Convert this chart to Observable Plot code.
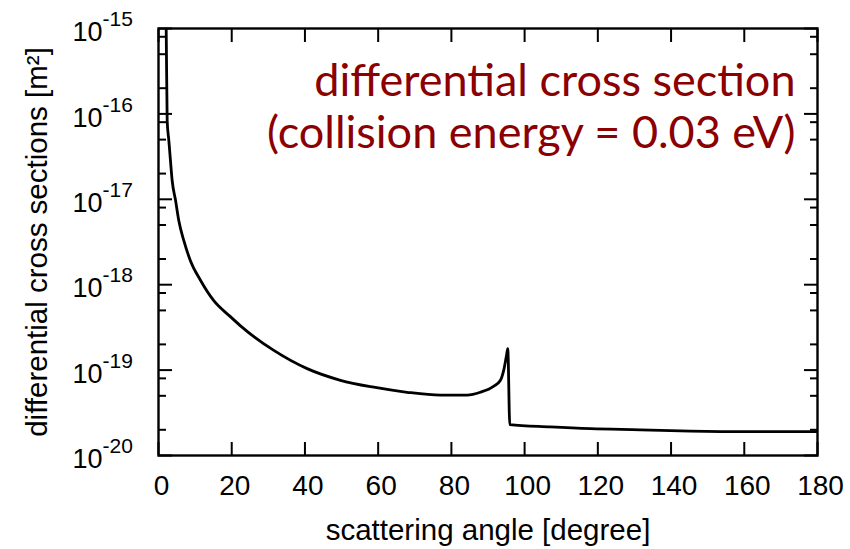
<!DOCTYPE html>
<html><head><meta charset="utf-8">
<script src="https://cdn.jsdelivr.net/npm/d3@7"></script>
<script src="https://cdn.jsdelivr.net/npm/@observablehq/plot@0.6"></script>
<style>body{margin:0;background:#fff} #chart svg{display:block}</style>
</head><body><div id="chart"></div>
<script>
const angles = [1.9, 2.1, 2.37, 2.82, 3.28, 3.73, 4.64, 5.55, 6.9, 8.74, 11.5, 15.1, 19.7, 22.4, 31.5, 40.6, 49.7, 58.8, 67.9, 77.0, 84.3, 87.9, 91.6, 93.4, 94.3, 95.05, 95.4, 95.95, 107, 118, 131.6, 145.3, 161.7, 180];
const crossSections = [2.5e-15, 1.0e-15, 8.3e-17, 4.9e-17, 2.8e-17, 1.66e-17, 9.8e-18, 5.6e-18, 3.3e-18, 1.9e-18, 1.12e-18, 6.5e-19, 4.2e-19, 3.3e-19, 1.7e-19, 1.04e-19, 7.6e-20, 6.3e-20, 5.5e-20, 5.1e-20, 5.1e-20, 5.5e-20, 6.5e-20, 7.6e-20, 1.0e-19, 1.48e-19, 1.78e-19, 2.3e-20, 2.16e-20, 2.06e-20, 2.0e-20, 1.93e-20, 1.9e-20, 1.9e-20];
const xTicks = [0, 20, 40, 60, 80, 100, 120, 140, 160, 180];
const yMajorTicks = [1e-15, 1e-16, 1e-17, 1e-18, 1e-19, 1e-20];
const yExponents = ["-15", "-16", "-17", "-18", "-19", "-20"];
const yMinorTicks = [2e-20, 5e-20, 8e-20, 2e-19, 5e-19, 8e-19, 2e-18, 5e-18, 8e-18, 2e-17, 5e-17, 8e-17, 2e-16, 5e-16, 8e-16];
const annotationText = "differential cross section\n(collision energy = 0.03 eV)";
const xLabel = "scattering angle [degree]";
const yLabel = "differential cross sections [m²]";

const data = angles.map((a, i) => ({angle: a, value: crossSections[i]}));
const idx = yMajorTicks.map((v, i) => ({v, e: yExponents[i]}));

const chart = Plot.plot({
  width: 850, height: 549,
  marginLeft: 158, marginRight: 33, marginTop: 28, marginBottom: 94,
  x: {domain: [0, 180]},
  y: {type: "log", domain: [1e-20, 1e-15]},
  style: {fontFamily: "'Liberation Sans', Arial, sans-serif", color: "#000", background: "#fff"},
  marks: [
    Plot.line(data, {x: "angle", y: "value", stroke: "#000", strokeWidth: 2.8, clip: true, curve: "monotone-x"}),
    Plot.axisX(xTicks, {anchor: "bottom", tickSize: -13, fill: "none", strokeWidth: 2, label: null}),
    Plot.axisX(xTicks, {anchor: "top", tickSize: -13, fill: "none", strokeWidth: 2, label: null}),
    Plot.axisX(xTicks, {anchor: "bottom", tickSize: 0, tickPadding: 20, fontSize: 28, dx: 3, label: null}),
    Plot.axisY(yMajorTicks, {anchor: "left", tickSize: -14, fill: "none", strokeWidth: 2, label: null}),
    Plot.axisY(yMajorTicks, {anchor: "right", tickSize: -14, fill: "none", strokeWidth: 2, label: null}),
    Plot.axisY(yMinorTicks, {anchor: "left", tickSize: -8, fill: "none", strokeWidth: 2, label: null}),
    Plot.axisY(yMinorTicks, {anchor: "right", tickSize: -8, fill: "none", strokeWidth: 2, label: null}),
    Plot.text(idx, {y: "v", frameAnchor: "left", text: () => "10", textAnchor: "end", dx: -56, dy: 4, fontSize: 27}),
    Plot.text(idx, {y: "v", frameAnchor: "left", text: "e", textAnchor: "start", dx: -56, dy: -9, fontSize: 21}),
    Plot.frame({stroke: "#000", strokeWidth: 2.4}),
    Plot.text([xLabel], {frameAnchor: "bottom", dy: 75, text: d => d, fontSize: 29.5, lineAnchor: "middle", textAnchor: "middle"}),
    Plot.text([yLabel], {frameAnchor: "left", dx: -121, rotate: -90, text: d => d, fontSize: 29.5, lineAnchor: "middle", textAnchor: "middle"}),
    Plot.text([annotationText], {frameAnchor: "top-right", dx: -22, dy: 31, text: d => d, textAnchor: "end", lineAnchor: "top", fontSize: 45, lineHeight: 1.15, fill: "#8b0000", fontFamily: "Lato, 'Open Sans', sans-serif"})
  ]
});
document.getElementById("chart").appendChild(chart);
</script>
</body></html>
